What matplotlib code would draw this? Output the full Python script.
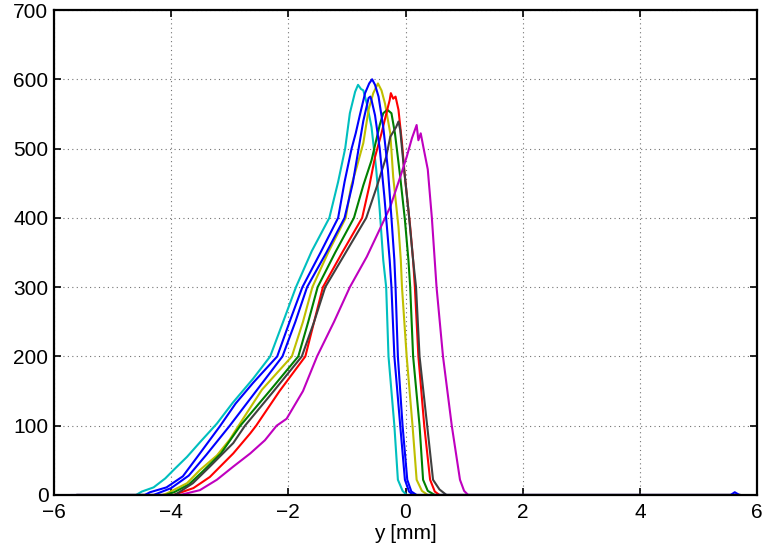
import matplotlib
matplotlib.use('Agg')
import matplotlib.pyplot as plt

plt.rcParams['font.family'] = ['Liberation Sans', 'DejaVu Sans']

# profiles (y position in mm, counts)
cyan_x = [-5.6, -4.6, -4.5, -4.3, -4.1, -3.96, -3.73, -3.51, -3.22, -2.95, -2.6, -2.31, -2.08, -1.87,
          -1.6, -1.3, -1.15, -1.03, -0.95, -0.86, -0.81, -0.76, -0.72, -0.66, -0.58, -0.5, -0.44,
          -0.38, -0.33, -0.29, -0.19, -0.13, -0.05, 0.02, 0.1, 5.7]
cyan_y = [0, 0, 5, 11, 24, 36, 55, 76, 103, 133, 168, 200, 252, 300,
          352, 400, 452, 500, 551, 582, 592, 586, 584, 565, 531, 470, 411,
          339, 300, 200, 100, 22, 6, 0, 0, 0]

blue_x = [-5.7, -4.45, -4.36, -4.08, -3.8, -3.51, -3.17, -2.9, -2.6, -2.19, -1.97, -1.76, -1.45,
          -1.15, -1.04, -0.92, -0.85, -0.78, -0.69, -0.62, -0.57, -0.52, -0.46, -0.38, -0.3, -0.24,
          -0.19, -0.17, -0.13, -0.05, 0.03, 0.1, 0.19, 5.55, 5.62, 5.7]
blue_y = [0, 0, 4, 11, 27, 60, 99, 132, 162, 200, 252, 300, 350,
          400, 452, 500, 522, 548, 580, 594, 600, 592, 575, 531, 470, 400,
          339, 300, 200, 100, 22, 5, 0, 0, 4, 0]

blue2_x = [-5.6, -4.3, -4.0, -3.7, -3.4, -3.0, -2.55, -2.1, -1.88, -1.68, -1.35, -1.04, -0.9,
           -0.8, -0.72, -0.63, -0.6, -0.58, -0.52, -0.44, -0.36, -0.27, -0.24, -0.19, -0.09, -0.01,
           0.06, 0.13, 5.7]
blue2_y = [0, 0, 10, 28, 58, 100, 150, 200, 250, 300, 350, 400, 450,
           500, 540, 573, 575, 570, 548, 500, 430, 339, 300, 200, 100, 22,
           5, 0, 0]

yellow_x = [-5.6, -4.15, -4.08, -3.73, -3.51, -3.22, -3.0, -2.85, -2.45, -1.94, -1.75, -1.59, -1.32,
            -1.02, -0.93, -0.83, -0.72, -0.63, -0.55, -0.47, -0.41, -0.35, -0.26, -0.21, -0.12,
            -0.08, -0.06, 0.02, 0.12, 0.19, 0.28, 0.38, 5.7]
yellow_y = [0, 0, 2, 17, 36, 57, 80, 100, 152, 200, 250, 300, 350,
            400, 445, 474, 508, 556, 580, 594, 584, 565, 522, 459, 387,
            339, 300, 200, 100, 22, 6, 0, 0]

green_x = [-5.6, -4.1, -3.95, -3.7, -3.45, -3.15, -2.82, -2.3, -1.83, -1.66, -1.5, -1.2, -0.88,
           -0.72, -0.58, -0.44, -0.38, -0.31, -0.24, -0.18, -0.09, -0.01, 0.05, 0.08, 0.13, 0.24,
           0.3, 0.38, 0.5, 5.7]
green_y = [0, 0, 4, 15, 35, 60, 100, 152, 200, 250, 300, 350, 400,
           447, 483, 534, 551, 556, 551, 522, 459, 397, 339, 300, 200, 100,
           22, 6, 0, 0]

red_x = [-5.6, -3.96, -3.62, -3.34, -2.94, -2.65, -2.55, -2.15, -1.71, -1.56, -1.41, -1.08, -0.74,
         -0.62, -0.52, -0.41, -0.3, -0.27, -0.25, -0.21, -0.17, -0.12, -0.06, -0.01, 0.08, 0.13,
         0.16, 0.22, 0.32, 0.42, 0.5, 0.58, 5.7]
red_y = [0, 0, 10, 26, 60, 89, 100, 150, 200, 250, 300, 350, 400,
         445, 488, 522, 560, 570, 580, 572, 575, 556, 508, 459, 387, 339,
         300, 200, 100, 22, 5, 0, 0]

gray_x = [-5.6, -3.95, -3.9, -3.63, -3.34, -2.94, -2.74, -2.25, -1.77, -1.56, -1.37, -1.02, -0.67,
          -0.49, -0.33, -0.26, -0.16, -0.12, -0.09, -0.04, 0.05, 0.13, 0.18, 0.24, 0.37, 0.47,
          0.58, 0.7, 5.7]
gray_y = [0, 0, 2, 17, 41, 75, 100, 150, 200, 250, 300, 350, 400,
          445, 488, 517, 531, 539, 527, 483, 411, 339, 300, 200, 100, 22,
          8, 0, 0]

magenta_x = [-5.6, -3.85, -3.51, -3.22, -2.94, -2.65, -2.4, -2.2, -2.03, -1.75, -1.51, -1.22,
             -0.95, -0.66, -0.42, -0.26, -0.09, 0.02, 0.11, 0.19, 0.22, 0.26, 0.31, 0.38, 0.45,
             0.53, 0.64, 0.79, 0.93, 1.0, 1.07, 5.7]
magenta_y = [0, 0, 7, 22, 41, 60, 79, 100, 110, 150, 200, 250,
             300, 344, 387, 416, 459, 488, 515, 534, 512, 522, 500, 470, 400,
             300, 200, 100, 22, 6, 0, 0]

fig = plt.figure(figsize=(7.67, 5.54), dpi=100)
ax = fig.add_axes([54 / 767, 59 / 554, 703 / 767, 485 / 554])

lw = 1.5
ax.plot(cyan_x, cyan_y, color=(0, 0.75, 0.75), lw=lw)
ax.plot(yellow_x, yellow_y, color=(0.75, 0.75, 0), lw=lw)
ax.plot(green_x, green_y, color=(0, 0.5, 0), lw=lw)
ax.plot(red_x, red_y, color='r', lw=lw)
ax.plot(gray_x, gray_y, color=(0.25, 0.25, 0.25), lw=lw)
ax.plot(magenta_x, magenta_y, color=(0.75, 0, 0.75), lw=lw)
ax.plot(blue2_x, blue2_y, color='b', lw=lw)
ax.plot(blue_x, blue_y, color='b', lw=lw)

ax.set_xlim(-6, 6)
ax.set_ylim(0, 700)
ax.set_xticks(range(-6, 7, 2))
ax.set_yticks(range(0, 701, 100))
ax.grid(True, linestyle=(0, (1, 3)), color='0.45', linewidth=0.8)
ax.tick_params(direction='in', top=True, right=True, length=5, width=1.2,
               labelsize=15)
ax.tick_params(axis='y', pad=4)
ax.tick_params(axis='x', pad=6)
for s in ax.spines.values():
    s.set_linewidth(1.6)
ax.set_xlabel('y [mm]', fontsize=15, labelpad=1)

fig.savefig('out.png', dpi=100)
